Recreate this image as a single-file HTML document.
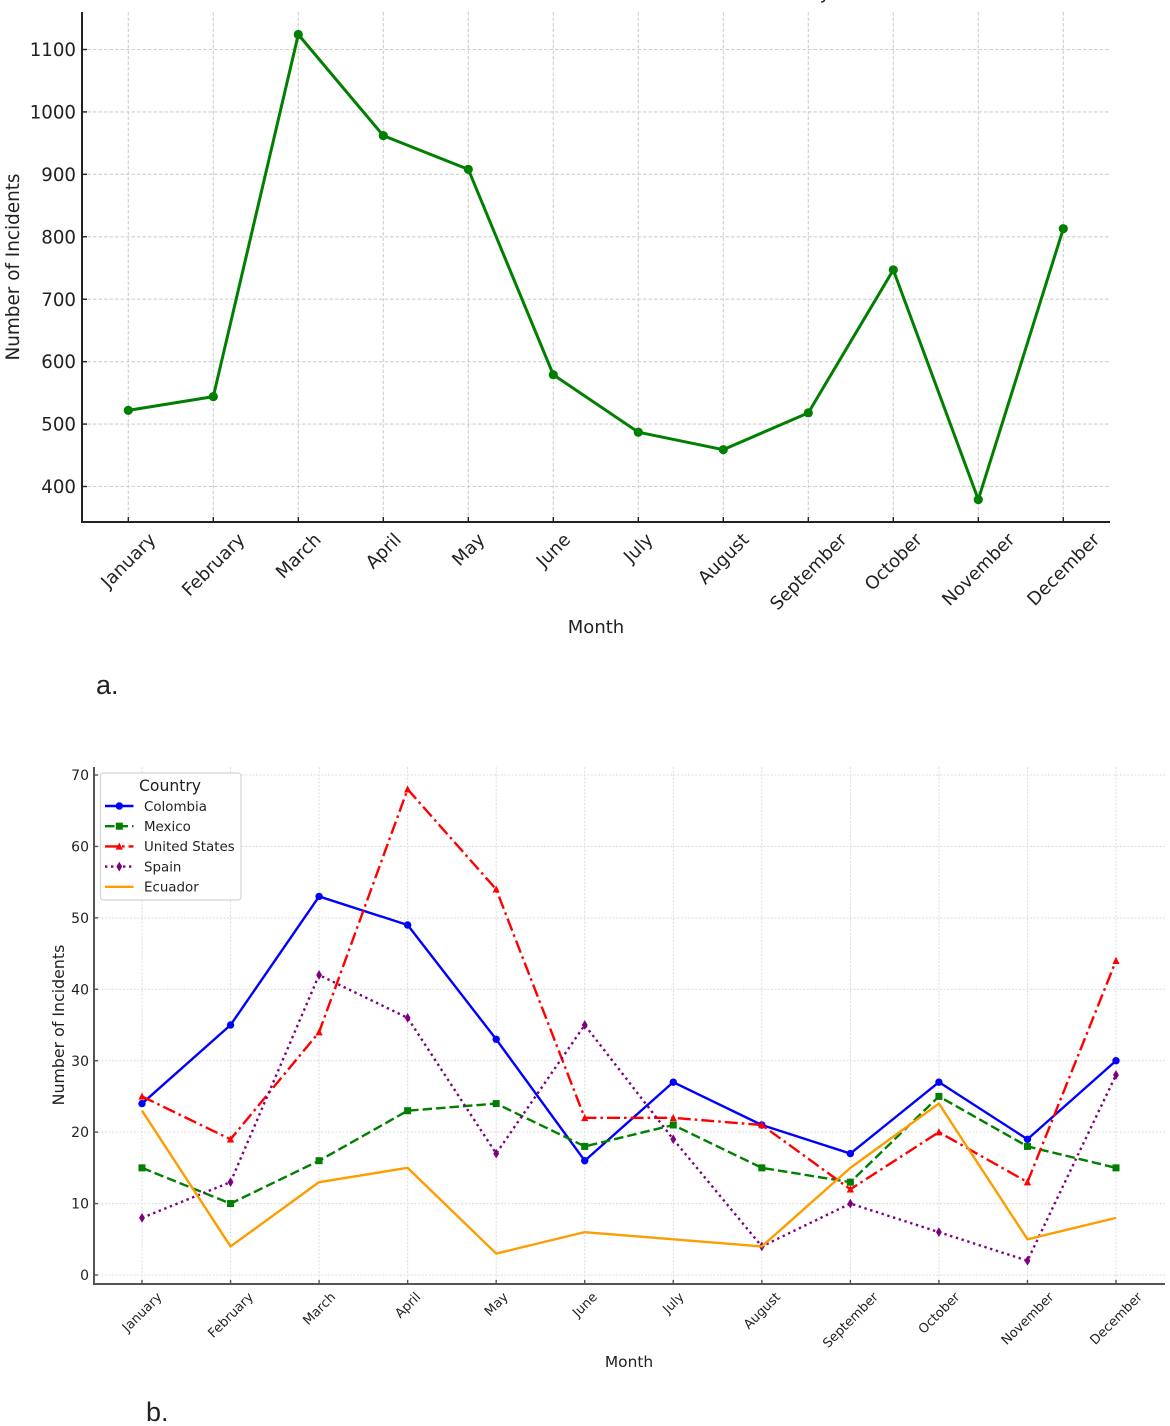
<!DOCTYPE html>
<html lang="en">
<head>
<meta charset="utf-8">
<title>Monthly incidents charts</title>
<style>
html,body{margin:0;padding:0;background:#fff;width:1170px;height:1426px;overflow:hidden}
svg{display:block;font-family:"DejaVu Sans","Liberation Sans",sans-serif;filter:blur(0.35px)}
</style>
</head>
<body>
<svg id="figure" xmlns="http://www.w3.org/2000/svg" width="1170" height="1426" viewBox="0 0 1170 1426">
<rect x="0" y="0" width="1170" height="1426" fill="#fff"/>
<text x="825" y="-1" font-size="18" fill="#222" text-anchor="middle">y</text>
<text x="96" y="694" font-size="27" fill="#222" style="font-family:'Liberation Sans',sans-serif">a.</text>
<text x="146" y="1421" font-size="27" fill="#222" style="font-family:'Liberation Sans',sans-serif">b.</text>
<g id="chart-a"></g>
<g id="chart-b"></g>
</svg>
<script>
const months = ['January','February','March','April','May','June','July','August','September','October','November','December'];
const totalTicks = [400,500,600,700,800,900,1000,1100];
const totalIncidents = [522,544,1124,962,908,579,487,459,518,747,379,813];
const countryTicks = [0,10,20,30,40,50,60,70];
const countryNames = ['Colombia','Mexico','United States','Spain','Ecuador'];
const colombiaValues = [24,35,53,49,33,16,27,21,17,27,19,30];
const mexicoValues = [15,10,16,23,24,18,21,15,13,25,18,15];
const unitedStatesValues = [25,19,34,68,54,22,22,21,12,20,13,44];
const spainValues = [8,13,42,36,17,35,19,4,10,6,2,28];
const ecuadorValues = [23,4,13,15,3,6,5,4,15,24,5,8];

const NS = 'http://www.w3.org/2000/svg';
function make(tag, attrs, parent, text) {
  const el = document.createElementNS(NS, tag);
  for (const k in attrs) el.setAttribute(k, attrs[k]);
  if (text !== undefined) el.textContent = text;
  parent.appendChild(el);
  return el;
}
function slug(s) { return s.toLowerCase().replace(/\s+/g, '-'); }

function linearAxis(d0, d1, r0, r1) {
  return function (v) { return r0 + (v - d0) * (r1 - r0) / (d1 - d0); };
}

function drawMarker(parent, kind, x, y, size, color, name) {
  let el;
  if (kind === 'circle') {
    el = make('circle', {cx: x, cy: y, r: size, fill: color}, parent);
  } else if (kind === 'square') {
    el = make('rect', {x: x - size, y: y - size, width: size * 2, height: size * 2, fill: color}, parent);
  } else if (kind === 'triangle') {
    el = make('polygon', {points: [x, y - size * 1.1, x + size, y + size * 0.9, x - size, y + size * 0.9].join(' '), fill: color}, parent);
  } else if (kind === 'diamond') {
    el = make('polygon', {points: [x, y - size * 1.25, x + size * 0.75, y, x, y + size * 1.25, x - size * 0.75, y].join(' '), fill: color}, parent);
  } else {
    return null;
  }
  
  
  return el;
}

function drawFrame(root, cfg) {
  const grid = make('g', {}, root);
  
  
  cfg.yTicks.forEach(function (t) {
    const y = cfg.y(t);
    const line = make('line', {x1: cfg.left, x2: cfg.right, y1: y, y2: y, stroke: cfg.gridColor, 'stroke-width': cfg.gridWidth, 'stroke-dasharray': cfg.gridDash}, grid);
    
    
  });
  months.forEach(function (m, i) {
    const x = cfg.x(i);
    const line = make('line', {x1: x, x2: x, y1: cfg.top, y2: cfg.bottom, stroke: cfg.gridColor, 'stroke-width': cfg.gridWidth, 'stroke-dasharray': cfg.gridDash}, grid);
    
    
  });

  const leftAxis = make('line', {x1: cfg.left, x2: cfg.left, y1: cfg.top, y2: cfg.bottom + 1, stroke: cfg.axisColor, 'stroke-width': 2}, root);
  
  
  const bottomAxis = make('line', {x1: cfg.left - 1, x2: cfg.right, y1: cfg.bottom, y2: cfg.bottom, stroke: cfg.axisColor, 'stroke-width': 2}, root);
  
  

  cfg.yTicks.forEach(function (t) {
    const y = cfg.y(t);
    const tick = make('line', {x1: cfg.left, x2: cfg.left + cfg.tickLen, y1: y, y2: y, stroke: cfg.axisColor, 'stroke-width': 1.4}, root);
    
    
    const label = make('text', {x: cfg.left - cfg.yLabelGap, y: y + cfg.yTickFont * 0.36, 'font-size': cfg.yTickFont, fill: '#222', 'text-anchor': 'end'}, root, String(t));
    
    
  });

  months.forEach(function (m, i) {
    const x = cfg.x(i);
    const tick = make('line', {x1: x, x2: x, y1: cfg.bottom, y2: cfg.bottom - cfg.tickLen, stroke: cfg.axisColor, 'stroke-width': 1.4}, root);
    
    
    const label = make('text', {x: x, y: 0, 'font-size': cfg.tickFont, fill: '#222', 'text-anchor': 'middle'}, root, m);
    
    
    const len = label.getComputedTextLength();
    const h = cfg.tickFont * 1.0;
    const cy = cfg.labelTop + (len + h) * Math.SQRT1_2 / 2;
    label.setAttribute('y', cy + cfg.tickFont * 0.34);
    label.setAttribute('transform', 'rotate(-45 ' + x + ' ' + cy + ')');
  });

  const xTitle = make('text', {x: cfg.xTitleX, y: cfg.xTitleY, 'font-size': cfg.xTitleFont, fill: '#222', 'text-anchor': 'middle'}, root, 'Month');
  
  
  const yTitle = make('text', {x: 0, y: 0, 'font-size': cfg.yTitleFont, fill: '#222', 'text-anchor': 'middle', transform: 'translate(' + cfg.yTitleX + ' ' + cfg.yTitleY + ') rotate(-90)'}, root, 'Number of Incidents');
  
  
}

function drawSeries(root, cfg, values, style, name) {
  const g = make('g', {}, root);
  
  
  const pts = values.map(function (v, i) { return cfg.x(i) + ',' + cfg.y(v); }).join(' ');
  const attrs = {points: pts, fill: 'none', stroke: style.color, 'stroke-width': style.width, 'stroke-linejoin': 'round'};
  if (style.dash) attrs['stroke-dasharray'] = style.dash;
  const line = make('polyline', attrs, g);
  
  
  values.forEach(function (v, i) {
    drawMarker(g, style.marker, cfg.x(i), cfg.y(v), style.size, style.color, name + '-point-' + slug(months[i]));
  });
}

/* Chart a */
const chartA = document.getElementById('chart-a');
const cfgA = {
  left: 82, right: 1110, top: 12, bottom: 522,
  x: linearAxis(0, 11, 128.3, 1063.3),
  y: linearAxis(400, 1100, 486.5, 49.5),
  yTicks: totalTicks,
  gridColor: '#cfcfcf', gridWidth: 1.1, gridDash: '3.5 2',
  axisColor: '#222', tickLen: 5, yLabelGap: 6, tickFont: 18, yTickFont: 18.2, xTitleFont: 18, yTitleFont: 18.4,
  labelTop: 530, xTitleX: 596, xTitleY: 633, yTitleX: 19, yTitleY: 267
};
drawFrame(chartA, cfgA);
drawSeries(chartA, cfgA, totalIncidents, {color: '#007f00', width: 3, marker: 'circle', size: 4.6}, 'total-incidents');

/* Chart b */
const chartB = document.getElementById('chart-b');
const cfgB = {
  left: 94, right: 1165, top: 767, bottom: 1284,
  x: linearAxis(0, 11, 142, 1116),
  y: linearAxis(0, 70, 1275, 775),
  yTicks: countryTicks,
  gridColor: '#dcdcdc', gridWidth: 1, gridDash: '2 1.6',
  axisColor: '#555', tickLen: 4, yLabelGap: 5, tickFont: 13, yTickFont: 14, xTitleFont: 15.4, yTitleFont: 15.8,
  labelTop: 1290, xTitleX: 629, xTitleY: 1367, yTitleX: 64, yTitleY: 1025
};
drawFrame(chartB, cfgB);

const seriesValues = [colombiaValues, mexicoValues, unitedStatesValues, spainValues, ecuadorValues];
const seriesStyles = [
  {color: '#0000ff', width: 2.4, marker: 'circle', size: 3.7},
  {color: '#007f00', width: 2.4, dash: '9.5 4', marker: 'square', size: 3.5},
  {color: '#ff0000', width: 2.4, dash: '13 4 2.6 4', marker: 'triangle', size: 3.6},
  {color: '#7f007f', width: 2.4, dash: '2.4 3.6', marker: 'diamond', size: 3.9},
  {color: '#ff9c00', width: 2.4, marker: 'none', size: 0}
];
countryNames.forEach(function (n, i) {
  drawSeries(chartB, cfgB, seriesValues[i], seriesStyles[i], slug(n));
});

/* Legend */
const legend = make('g', {}, chartB);


const legendBox = make('rect', {x: 100.5, y: 773, width: 140.5, height: 127, rx: 3, fill: '#fff', 'fill-opacity': 0.92, stroke: '#d4d4d4', 'stroke-width': 1.2}, legend);


const legendTitle = make('text', {x: 170, y: 791, 'font-size': 15.6, fill: '#222', 'text-anchor': 'middle'}, legend, 'Country');


countryNames.forEach(function (n, i) {
  const st = seriesStyles[i];
  const y = 806 + i * 20.2;
  const entry = make('g', {}, legend);
  
  
  const attrs = {x1: 105, x2: 133.5, y1: y, y2: y, stroke: st.color, 'stroke-width': st.width};
  if (st.dash) attrs['stroke-dasharray'] = st.dash;
  const swatch = make('line', attrs, entry);
  
  
  drawMarker(entry, st.marker, 119.3, y, st.size, st.color, 'legend-marker-' + slug(n));
  const label = make('text', {x: 144, y: y + 4.8, 'font-size': 13.4, fill: '#222'}, entry, n);
  
  
});
</script>
</body>
</html>
